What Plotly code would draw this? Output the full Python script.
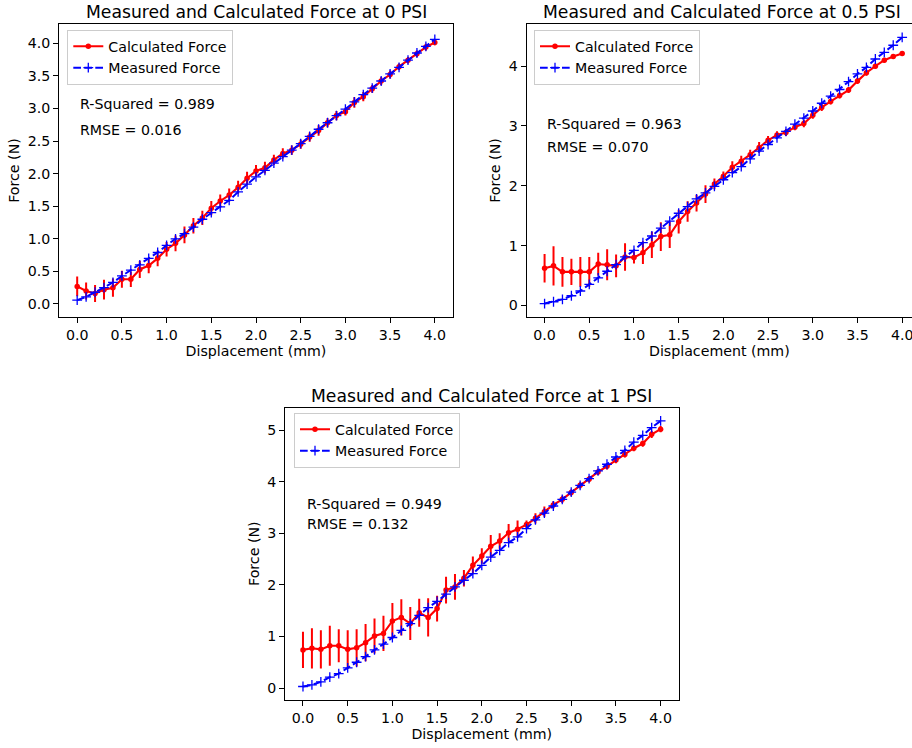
import plotly.graph_objects as go

# ---------------- data ----------------
displacement = [0.0, 0.1, 0.2, 0.3, 0.4, 0.5, 0.6, 0.7, 0.8, 0.9,
                1.0, 1.1, 1.2, 1.3, 1.4, 1.5, 1.6, 1.7, 1.8, 1.9,
                2.0, 2.1, 2.2, 2.3, 2.4, 2.5, 2.6, 2.7, 2.8, 2.9,
                3.0, 3.1, 3.2, 3.3, 3.4, 3.5, 3.6, 3.7, 3.8, 3.9, 4.0]

calc_0psi = [0.27, 0.20, 0.16, 0.22, 0.25, 0.38, 0.38, 0.53, 0.59, 0.70,
             0.84, 0.93, 1.06, 1.20, 1.32, 1.47, 1.58, 1.67, 1.79, 1.93,
             2.04, 2.09, 2.21, 2.31, 2.36, 2.45, 2.56, 2.66, 2.78, 2.89,
             2.95, 3.09, 3.18, 3.30, 3.42, 3.52, 3.64, 3.74, 3.84, 3.94, 4.01]
err_0psi = [0.15, 0.13, 0.13, 0.15, 0.14, 0.13, 0.12, 0.13, 0.12, 0.12,
            0.11, 0.12, 0.13, 0.12, 0.11, 0.11, 0.10, 0.10, 0.10, 0.10,
            0.09, 0.09, 0.08, 0.08, 0.07, 0.07, 0.07, 0.08, 0.07, 0.07,
            0.06, 0.08, 0.07, 0.06, 0.06, 0.06, 0.05, 0.05, 0.05, 0.05, 0.04]
meas_0psi = [0.06, 0.11, 0.18, 0.25, 0.33, 0.43, 0.52, 0.60, 0.70, 0.79,
             0.90, 1.00, 1.08, 1.18, 1.30, 1.40, 1.49, 1.59, 1.72, 1.84,
             1.95, 2.05, 2.16, 2.26, 2.36, 2.46, 2.57, 2.68, 2.78, 2.89,
             2.99, 3.10, 3.21, 3.31, 3.42, 3.53, 3.63, 3.74, 3.85, 3.95, 4.06]

calc_05psi = [0.62, 0.66, 0.56, 0.56, 0.56, 0.56, 0.69, 0.68, 0.66, 0.81,
              0.80, 0.88, 1.01, 1.15, 1.18, 1.40, 1.57, 1.71, 1.86, 2.03,
              2.16, 2.31, 2.41, 2.52, 2.64, 2.76, 2.85, 2.89, 2.98, 3.04,
              3.18, 3.31, 3.41, 3.51, 3.60, 3.75, 3.89, 4.00, 4.10, 4.16, 4.21]
err_05psi = [0.24, 0.33, 0.25, 0.22, 0.25, 0.25, 0.19, 0.26, 0.19, 0.23,
             0.10, 0.19, 0.22, 0.24, 0.22, 0.20, 0.17, 0.14, 0.15, 0.09,
             0.08, 0.10, 0.09, 0.08, 0.09, 0.07, 0.06, 0.06, 0.05, 0.06,
             0.06, 0.06, 0.05, 0.05, 0.05, 0.05, 0.05, 0.04, 0.04, 0.04, 0.04]
meas_05psi = [0.03, 0.06, 0.10, 0.16, 0.24, 0.35, 0.46, 0.57, 0.68, 0.81,
              0.92, 1.05, 1.16, 1.29, 1.41, 1.54, 1.65, 1.78, 1.88, 1.99,
              2.10, 2.22, 2.32, 2.45, 2.58, 2.69, 2.80, 2.91, 3.03, 3.13,
              3.25, 3.38, 3.50, 3.61, 3.74, 3.87, 3.98, 4.12, 4.23, 4.35, 4.48]

calc_1psi = [0.74, 0.77, 0.75, 0.82, 0.82, 0.75, 0.78, 0.88, 1.01, 1.06,
             1.30, 1.37, 1.25, 1.46, 1.37, 1.54, 1.90, 1.96, 2.13, 2.38,
             2.56, 2.75, 2.85, 3.01, 3.08, 3.17, 3.29, 3.42, 3.55, 3.66,
             3.79, 3.93, 4.05, 4.19, 4.30, 4.42, 4.53, 4.65, 4.74, 4.92, 5.02]
err_1psi = [0.35, 0.39, 0.37, 0.39, 0.32, 0.37, 0.36, 0.36, 0.34, 0.34,
            0.35, 0.35, 0.32, 0.27, 0.37, 0.25, 0.26, 0.25, 0.16, 0.17,
            0.15, 0.22, 0.15, 0.17, 0.17, 0.08, 0.10, 0.10, 0.07, 0.07,
            0.06, 0.06, 0.06, 0.06, 0.06, 0.06, 0.06, 0.06, 0.06, 0.07, 0.06]
meas_1psi = [0.03, 0.06, 0.12, 0.21, 0.28, 0.39, 0.50, 0.61, 0.74, 0.85,
             0.98, 1.12, 1.25, 1.41, 1.56, 1.68, 1.82, 1.96, 2.09, 2.22,
             2.38, 2.54, 2.67, 2.82, 2.93, 3.09, 3.26, 3.39, 3.53, 3.66,
             3.80, 3.93, 4.06, 4.21, 4.34, 4.48, 4.61, 4.77, 4.90, 5.05, 5.18]

titles = ["Measured and Calculated Force at 0 PSI",
          "Measured and Calculated Force at 0.5 PSI",
          "Measured and Calculated Force at 1 PSI"]
stats = [("R-Squared = 0.989", "RMSE = 0.016"),
         ("R-Squared = 0.963", "RMSE = 0.070"),
         ("R-Squared = 0.949", "RMSE = 0.132")]
x_ticks = [0.0, 0.5, 1.0, 1.5, 2.0, 2.5, 3.0, 3.5, 4.0]
y_ticks_0psi = [0.0, 0.5, 1.0, 1.5, 2.0, 2.5, 3.0, 3.5, 4.0]
y_ticks_05psi = [0, 1, 2, 3, 4]
y_ticks_1psi = [0, 1, 2, 3, 4, 5]

# ---------------- layout helpers ----------------
W, H = 912, 748
FONT = "DejaVu Sans"
FS = 14.2
TFS = 17.2


def px(x):
    return x / W


def py(y):
    return 1 - y / H


fig = go.Figure()

panels = [
    dict(calc=calc_0psi, err=err_0psi, meas=meas_0psi, ax="", leg="legend"),
    dict(calc=calc_05psi, err=err_05psi, meas=meas_05psi, ax="2", leg="legend2"),
    dict(calc=calc_1psi, err=err_1psi, meas=meas_1psi, ax="3", leg="legend3"),
]

for p in panels:
    fig.add_trace(go.Scatter(
        x=displacement, y=p["calc"], mode="lines+markers", name="Calculated Force",
        line=dict(color="red", width=2.1),
        marker=dict(color="red", size=5.5, symbol="circle"),
        error_y=dict(type="data", array=p["err"], color="red", thickness=2, width=0),
        xaxis="x" + p["ax"], yaxis="y" + p["ax"], legend=p["leg"],
    ))
    fig.add_trace(go.Scatter(
        x=displacement, y=p["meas"], mode="lines+markers", name="Measured Force",
        line=dict(color="blue", width=2.0, dash="7.7px,3.3px"),
        marker=dict(color="blue", size=7, symbol="cross-thin",
                    line=dict(color="blue", width=1.3)),
        xaxis="x" + p["ax"], yaxis="y" + p["ax"], legend=p["leg"],
    ))

axis_common = dict(showline=True, linecolor="black", linewidth=1.1,
                   ticks="outside", ticklen=5, tickwidth=1.1, tickcolor="black",
                   showgrid=False, zeroline=False, ticklabeloverflow="allow",
                   tickfont=dict(family=FONT, size=FS, color="black"))

# frames (pixel coordinates)
f1 = (59.3, 452.7, 24.3, 316.7)
f2 = (526.7, 912.0, 24.3, 316.7)
f3 = (285.1, 678.5, 407.5, 699.9)

xlabel = dict(text="Displacement (mm)", font=dict(family=FONT, size=FS, color="black"), standoff=3)
ylabel = dict(text="Force (N)", font=dict(family=FONT, size=FS, color="black"), standoff=4)

fig.update_layout(
    xaxis=dict(domain=[px(f1[0]), px(f1[1])], range=[-0.2, 4.2], anchor="y",
               tickvals=x_ticks, tickformat=".1f", mirror=True, title=xlabel, **axis_common),
    yaxis=dict(domain=[py(f1[3]), py(f1[2])], range=[-0.195, 4.29], anchor="x",
               tickvals=y_ticks_0psi, tickformat=".1f", mirror=True, title=ylabel, **axis_common),
    xaxis2=dict(domain=[px(f2[0]), px(f2[1])], range=[-0.2, 4.11], anchor="y2",
                tickvals=x_ticks, tickformat=".1f", mirror=True, title=xlabel, **axis_common),
    yaxis2=dict(domain=[py(f2[3]), py(f2[2])], range=[-0.19, 4.70], anchor="x2",
                tickvals=y_ticks_05psi, tickformat="d", mirror=False, title=ylabel, **axis_common),
    xaxis3=dict(domain=[px(f3[0]), px(f3[1])], range=[-0.2, 4.2], anchor="y3",
                tickvals=x_ticks, tickformat=".1f", mirror=True, title=xlabel, **axis_common),
    yaxis3=dict(domain=[py(f3[3]), py(f3[2])], range=[-0.23, 5.44], anchor="x3",
                tickvals=y_ticks_1psi, tickformat="d", mirror=True, title=ylabel, **axis_common),
)

legend_common = dict(bgcolor="rgba(255,255,255,0.8)", bordercolor="#cccccc", borderwidth=1,
                     font=dict(family=FONT, size=FS, color="black"),
                     xanchor="left", yanchor="top", traceorder="normal")
fig.update_layout(
    legend=dict(x=px(67.3), y=py(29.5), **legend_common),
    legend2=dict(x=px(534.0), y=py(29.5), **legend_common),
    legend3=dict(x=px(294.0), y=py(412.5), **legend_common),
)

annotations = []
title_pos = [(256.0, 12.0), (722.0, 12.0), (481.8, 396.0)]
for t, (cx, cy) in zip(titles, title_pos):
    annotations.append(dict(text=t, x=px(cx), y=py(cy), xref="paper", yref="paper",
                            xanchor="center", yanchor="middle", showarrow=False,
                            font=dict(family=FONT, size=TFS, color="black")))
stat_pos = [((78.3, 104.0), (78.3, 130.0)),
            ((545.3, 124.0), (545.3, 147.3)),
            ((305.0, 504.0), (305.0, 524.0))]
for (s1, s2), ((x1, y1), (x2, y2)) in zip(stats, stat_pos):
    for s, xx, yy in ((s1, x1, y1), (s2, x2, y2)):
        annotations.append(dict(text=s, x=px(xx), y=py(yy), xref="paper", yref="paper",
                                xanchor="left", yanchor="middle", showarrow=False,
                                font=dict(family=FONT, size=FS, color="black")))

fig.update_layout(
    width=W, height=H,
    margin=dict(l=0, r=0, t=0, b=0),
    paper_bgcolor="white", plot_bgcolor="white",
    annotations=annotations,
    font=dict(family=FONT, size=FS, color="black"),
    showlegend=True,
)

fig.write_html(
    "out.html",
    config={"displayModeBar": False},
    post_script="document.body.style.margin='0';document.body.style.overflow='hidden';",
)
